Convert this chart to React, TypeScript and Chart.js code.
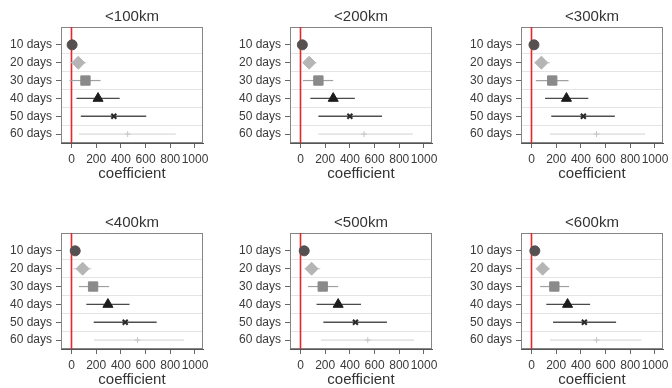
import React, { useEffect, useRef } from 'react';
import { Chart, registerables } from 'chart.js';

Chart.register(...registerables);

// ---------- data ----------
const rowLabels = ['10 days', '20 days', '30 days', '40 days', '50 days', '60 days'];
const panelTitles = ['<100km', '<200km', '<300km', '<400km', '<500km', '<600km'];
const xTickValues = [0, 200, 400, 600, 800, 1000];
const xAxisTitle = 'coefficient';

const coef100 = [5, 55, 113, 215, 343, 455];
const lo100 = [-8, -15, -15, 40, 75, 60];
const hi100 = [18, 120, 235, 390, 605, 845];

const coef200 = [15, 70, 145, 265, 400, 515];
const lo200 = [0, 20, 20, 80, 145, 145];
const hi200 = [30, 130, 265, 440, 660, 910];

const coef300 = [20, 80, 168, 283, 420, 527];
const lo300 = [5, 25, 35, 110, 160, 150];
const hi300 = [35, 150, 300, 460, 675, 920];

const coef400 = [30, 90, 175, 295, 435, 535];
const lo400 = [15, 15, 60, 120, 180, 180];
const hi400 = [45, 160, 305, 470, 690, 910];

const coef500 = [30, 90, 180, 305, 445, 545];
const lo500 = [15, 35, 60, 130, 185, 165];
const hi500 = [45, 160, 305, 490, 700, 920];

const coef600 = [27, 90, 185, 292, 428, 527];
const lo600 = [12, 40, 70, 120, 175, 150];
const hi600 = [42, 150, 305, 475, 685, 890];

const coefs = [coef100, coef200, coef300, coef400, coef500, coef600];
const lows = [lo100, lo200, lo300, lo400, lo500, lo600];
const highs = [hi100, hi200, hi300, hi400, hi500, hi600];

// ---------- styles ----------
const FONT = 'Arial, "Liberation Sans", sans-serif';
const markerStyles = [
  { style: 'circle', radius: 5, fill: '#575050', stroke: '#575050', bw: 1, ci: '#777777', ciW: 1 },
  { style: 'rectRot', radius: 6.5, fill: '#b5b5b5', stroke: '#b5b5b5', bw: 1, ci: '#cfcfcf', ciW: 1.2 },
  { style: 'rect', radius: 6.6, fill: '#8a8a8a', stroke: '#8a8a8a', bw: 1, ci: '#a0a0a0', ciW: 1.2 },
  { style: 'triangle', radius: 5.8, fill: '#1c1c1c', stroke: '#1c1c1c', bw: 1, ci: '#4a4a4a', ciW: 1.4 },
  { style: 'crossRot', radius: 3.5, fill: '#2a2a2a', stroke: '#2a2a2a', bw: 2, ci: '#505050', ciW: 1.5 },
  { style: 'cross', radius: 3, fill: '#c4c4c4', stroke: '#c4c4c4', bw: 1, ci: '#d2d2d2', ciW: 1 },
];

const panelLeft = [61, 290, 521, 61, 290, 521];
const panelTop = [27, 27, 27, 233, 233, 233];
const Y_AXIS_W = 60;
const PLOT_W = 142;
const RIGHT_PAD = 9;
const TITLE_H = 27;
const PLOT_H = 116;
const X_AXIS_H = 46;

const framePlugin = {
  id: 'frame',
  beforeDatasetsDraw(chart: any) {
    const { ctx, chartArea } = chart;
    ctx.save();
    ctx.strokeStyle = '#858585';
    ctx.lineWidth = 1;
    ctx.strokeRect(
      Math.round(chartArea.left) + 0.5,
      Math.round(chartArea.top) + 0.5,
      Math.round(chartArea.right - chartArea.left) - 1,
      Math.round(chartArea.bottom - chartArea.top) - 1
    );
    ctx.restore();
  },
};

function Panel({ idx }: { idx: number }) {
  const ref = useRef<HTMLCanvasElement | null>(null);
  useEffect(() => {
    if (!ref.current) return;
    const coef = coefs[idx];
    const lo = lows[idx];
    const hi = highs[idx];
    const datasets: any[] = [];
    datasets.push({
      data: [{ x: 0, y: 0 }, { x: 0, y: 6.5 }],
      showLine: true,
      borderColor: '#e8262c',
      borderWidth: 1.6,
      pointRadius: 0,
      order: 20,
      yAxisID: 'y',
    });
    rowLabels.forEach((_, i) => {
      const m = markerStyles[i];
      datasets.push({
        data: [{ x: lo[i], y: i + 1 }, { x: hi[i], y: i + 1 }],
        showLine: true,
        borderColor: m.ci,
        borderWidth: m.ciW,
        pointRadius: 0,
        order: 10,
        yAxisID: 'y',
      });
      datasets.push({
        data: [{ x: coef[i], y: i + 1 }],
        showLine: false,
        pointStyle: m.style,
        pointRadius: m.radius,
        backgroundColor: m.fill,
        borderColor: m.stroke,
        borderWidth: m.bw,
        order: 0,
        yAxisID: 'y',
      });
    });

    const chart = new Chart(ref.current, {
      type: 'scatter',
      data: { datasets },
      options: {
        animation: false,
        responsive: false,
        maintainAspectRatio: false,
        events: [],
        layout: { padding: { left: 0, right: RIGHT_PAD, top: 0, bottom: 0 } },
        plugins: {
          legend: { display: false },
          tooltip: { enabled: false },
          title: {
            display: true,
            text: panelTitles[idx],
            fullSize: false,
            color: '#333333',
            font: { family: FONT, size: 15, weight: 'normal' },
            padding: { top: 8, bottom: 1 },
          },
        },
        scales: {
          x: {
            type: 'linear',
            min: -85,
            max: 1065,
            afterBuildTicks: (s: any) => {
              s.ticks = xTickValues.map((v) => ({ value: v }));
            },
            afterFit: (s: any) => {
              s.height = X_AXIS_H;
              s.paddingLeft = 0;
              s.paddingRight = 0;
            },
            ticks: {
              autoSkip: false,
              maxRotation: 0,
              color: '#3a3a3a',
              font: { family: FONT, size: 12 },
              padding: 4,
              callback: (v: any) => String(v),
            },
            grid: { drawOnChartArea: false, drawTicks: true, tickLength: 5, color: '#666666' },
            border: { color: '#555555', width: 1 },
            title: {
              display: true,
              text: xAxisTitle,
              color: '#333333',
              font: { family: FONT, size: 15 },
              padding: { top: 0, bottom: 6 },
            },
          },
          y: {
            type: 'linear',
            min: 0,
            max: 6.5,
            reverse: true,
            afterBuildTicks: (s: any) => {
              s.ticks = rowLabels.map((_, i) => ({ value: i + 1 }));
            },
            afterFit: (s: any) => {
              s.width = Y_AXIS_W;
              s.paddingTop = 0;
              s.paddingBottom = 0;
            },
            ticks: {
              autoSkip: false,
              color: '#3a3a3a',
              font: { family: FONT, size: 12 },
              padding: 4,
              callback: (_v: any, i: number) => rowLabels[i],
            },
            grid: { drawOnChartArea: false, drawTicks: true, tickLength: 5, color: '#666666' },
            border: { color: '#555555', width: 1 },
          },
          yGrid: {
            type: 'linear',
            position: 'right',
            min: 0,
            max: 6.5,
            reverse: true,
            afterBuildTicks: (s: any) => {
              s.ticks = [1.5, 2.5, 3.5, 4.5, 5.5].map((v) => ({ value: v }));
            },
            afterFit: (s: any) => {
              s.width = 0;
              s.paddingTop = 0;
              s.paddingBottom = 0;
            },
            ticks: { display: false },
            grid: { drawTicks: false, color: '#e4e4e4', lineWidth: 1 },
            border: { display: false },
          },
        },
      } as any,
      plugins: [framePlugin],
    });
    return () => chart.destroy();
  }, [idx]);

  const w = Y_AXIS_W + PLOT_W + RIGHT_PAD;
  const h = TITLE_H + PLOT_H + X_AXIS_H;
  return (
    <canvas
      ref={ref}
      width={w}
      height={h}
      style={{
        position: 'absolute',
        left: panelLeft[idx] - Y_AXIS_W,
        top: panelTop[idx] - TITLE_H,
        width: w,
        height: h,
      }}
    />
  );
}

export default function App() {
  return (
    <div
      style={{
        position: 'absolute',
        left: 0,
        top: 0,
        width: 672,
        height: 388,
        overflow: 'hidden',
        background: '#ffffff',
      }}
    >
      {panelTitles.map((_, i) => (
        <Panel key={i} idx={i} />
      ))}
    </div>
  );
}
